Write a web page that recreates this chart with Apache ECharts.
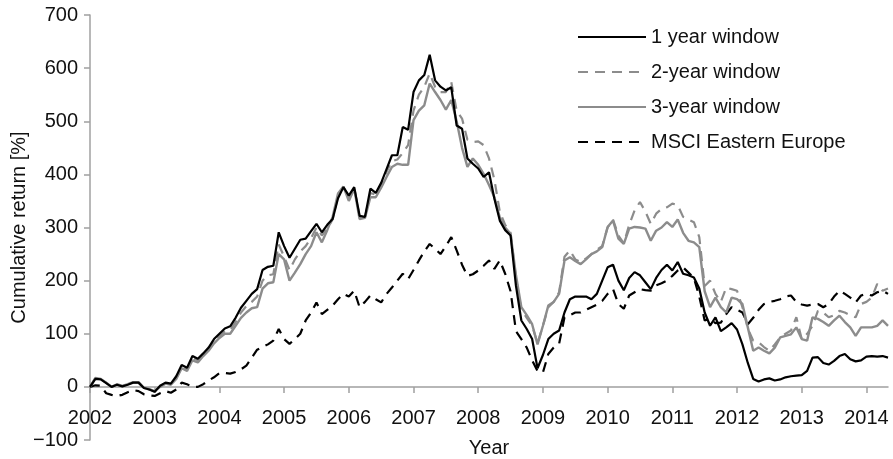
<!DOCTYPE html>
<html>
<head>
<meta charset="utf-8">
<script src="https://cdn.jsdelivr.net/npm/echarts@6/dist/echarts.min.js"></script>
<style>
html, body { margin: 0; padding: 0; background: #fff; }
#chart { width: 893px; height: 459px; }
</style>
</head>
<body>
<div id="chart"></div>
<script>
// monthly categories, Jan 2002 .. May 2014
var years = [2002, 2003, 2004, 2005, 2006, 2007, 2008, 2009, 2010, 2011, 2012, 2013, 2014];
var months = [];
years.forEach(function (y) {
	for (var m = 1; m <= 12; m++) {
		if (y === 2014 && m > 5) break;
		months.push(y + '-' + (m < 10 ? '0' : '') + m);
	}
});

var oneYear = [0, 15, 14, 7, 0, 4, 1, 4, 8, 8, -2, -5,
	-9, 2, 8, 6, 20, 41, 36, 58, 53, 63, 74, 90,
	100, 110, 114, 130, 149, 162, 175, 184, 220, 226, 228, 291,
	265, 243, 260, 277, 279, 293, 307, 291, 305, 316, 355, 376,
	360, 376, 322, 320, 373, 365, 384, 410, 436, 436, 489, 484,
	555, 577, 587, 625, 577, 565, 558, 564, 492, 486, 430, 420,
	411, 395, 404, 354, 313, 295, 285, 190, 125, 109, 90, 35,
	60, 90, 100, 106, 140, 165, 170, 170, 170, 165, 175, 200,
	225, 230, 200, 182, 205, 216, 210, 197, 184, 205, 220, 230,
	219, 235, 213, 210, 206, 185, 140, 115, 131, 105, 112, 120,
	108, 80, 45, 15, 10, 14, 16, 12, 14, 18, 20, 21,
	22, 30, 55, 56, 45, 42, 49, 58, 62, 52, 48, 50,
	57, 58, 57, 58, 55];

var twoYear = [0, 16, 14, 8, 0, 4, 1, 5, 8, 8, -2, -5,
	-9, 1, 7, 5, 17, 38, 33, 54, 50, 60, 71, 86,
	96, 105, 107, 122, 140, 152, 160, 170, 200, 210, 212, 268,
	245, 220, 240, 255, 265, 280, 300, 285, 298, 315, 360, 376,
	355, 376, 320, 320, 365, 362, 380, 405, 425, 428, 440, 455,
	520, 550, 565, 590, 565, 555, 555, 574, 520, 505, 465, 461,
	462, 455, 430, 390, 330, 305, 290, 205, 145, 130, 115, 82,
	115, 150, 160, 178, 245, 257, 240, 235, 242, 250, 258, 265,
	300, 315, 285, 270, 305, 332, 348, 330, 307, 326, 335, 338,
	345, 342, 320, 315, 310, 282, 190, 200, 175, 160, 187, 184,
	181, 150, 110, 87, 84, 75, 68, 80, 93, 100, 106, 131,
	90, 100, 115, 143, 140, 131, 135, 143, 140, 135, 131, 156,
	160, 168, 194, 181, 185];

var threeYear = [0, 17, 15, 8, 0, 5, 2, 5, 9, 9, -2, -4,
	-8, 0, 6, 4, 15, 35, 30, 50, 46, 58, 68, 82,
	92, 100, 100, 115, 130, 140, 148, 150, 185, 195, 197, 250,
	240, 200, 215, 231, 250, 265, 291, 272, 295, 320, 364, 377,
	350, 373, 316, 318, 357, 357, 375, 395, 414, 420, 418, 418,
	502, 520, 530, 571, 555, 540, 522, 540, 500, 450, 414, 430,
	418, 401, 380, 357, 319, 300, 288, 210, 150, 135, 118, 80,
	115, 153, 160, 175, 238, 244, 237, 231, 240, 250, 255, 263,
	301, 313, 279, 269, 298, 301, 300, 298, 275, 294, 300, 310,
	301, 315, 290, 275, 272, 263, 180, 150, 168, 150, 140, 168,
	165, 156, 112, 68, 74, 68, 63, 74, 93, 96, 99, 112,
	90, 87, 131, 128, 122, 115, 125, 134, 122, 112, 96, 112,
	112, 112, 115, 125, 115];

var msci = [0, 3, 2, -12, -15, -17, -15, -10, -6, -8, -14, -16,
	-17, -12, -8, -11, -5, 8, 5, 0, 0, 5, 12, 18,
	26, 26, 25, 28, 33, 40, 55, 70, 75, 80, 87, 109,
	90, 81, 90, 100, 125, 140, 159, 137, 145, 153, 165, 175,
	170, 181, 150, 160, 172, 165, 159, 175, 187, 200, 213, 203,
	220, 238, 255, 269, 260, 250, 265, 282, 257, 230, 209, 212,
	219, 228, 238, 222, 238, 213, 180, 105, 90, 74, 50, 30,
	27, 62, 74, 81, 131, 135, 140, 140, 145, 150, 155, 162,
	175, 184, 156, 147, 172, 178, 184, 182, 181, 191, 195, 200,
	209, 219, 225, 215, 205, 170, 125, 128, 120, 121, 137, 150,
	145, 140, 118, 130, 145, 156, 160, 162, 165, 170, 172, 160,
	155, 153, 155, 156, 150, 156, 170, 181, 175, 168, 159, 172,
	175, 172, 178, 181, 175];

var seriesNames = ['1 year window', '2-year window', '3-year window', 'MSCI Eastern Europe'];

var font = "'Liberation Sans', Arial, sans-serif";
var fontSize = 20;
var grayLine = '#8c8c8c';
var axisGray = '#a0a0a0';

function yearTick(index) {
	return index % 12 === 0;
}

var option = {
	backgroundColor: '#fff',
	animation: false,
	textStyle: {
		fontFamily: font
	},
	grid: {
		left: 90,
		right: 5,
		top: 15,
		bottom: 19,
		outerBoundsMode: 'none'
	},
	legend: {
		orient: 'vertical',
		left: 572,
		top: 22,
		itemWidth: 68,
		itemHeight: 14,
		itemGap: 15,
		itemStyle: { opacity: 0 },
		textStyle: {
			fontFamily: font,
			fontSize: fontSize,
			color: '#111'
		},
		data: seriesNames
	},
	xAxis: [{
		// axis line and ticks sitting on zero
		type: 'category',
		data: months,
		boundaryGap: false,
		axisLine: {
			onZero: true,
			lineStyle: { color: axisGray, width: 1.5 }
		},
		axisTick: {
			interval: yearTick,
			length: 6,
			lineStyle: { color: axisGray, width: 1.5 }
		},
		axisLabel: { show: false },
		splitLine: { show: false }
	}, {
		// year labels and name, moved up to the zero line
		type: 'category',
		data: months,
		boundaryGap: false,
		position: 'bottom',
		offset: -53,
		name: 'Year',
		nameLocation: 'middle',
		nameGap: 51,
		nameMoveOverlap: false,
		nameTextStyle: {
			fontFamily: font,
			fontSize: fontSize,
			color: '#111'
		},
		axisLine: { show: false, onZero: false },
		axisTick: { show: false },
		axisLabel: {
			interval: yearTick,
			margin: 21,
			fontFamily: font,
			fontSize: fontSize,
			color: '#111',
			formatter: function (v) {
				return v.slice(0, 4);
			}
		},
		splitLine: { show: false }
	}],
	yAxis: {
		type: 'value',
		min: -100,
		max: 700,
		interval: 100,
		name: 'Cumulative return [%]',
		nameLocation: 'middle',
		nameGap: 61,
		nameMoveOverlap: false,
		nameTextStyle: {
			fontFamily: font,
			fontSize: fontSize,
			color: '#111'
		},
		axisLine: {
			show: true,
			lineStyle: { color: axisGray, width: 1.5 }
		},
		axisTick: {
			show: true,
			length: 6,
			lineStyle: { color: axisGray, width: 1.5 }
		},
		axisLabel: {
			margin: 12,
			fontFamily: font,
			fontSize: fontSize,
			color: '#111',
			formatter: function (v) {
				return v < 0 ? '\u2212' + Math.abs(v) : v;
			}
		},
		splitLine: { show: false }
	},
	series: [{
		name: seriesNames[0],
		type: 'line',
		symbol: 'none',
		z: 5,
		data: oneYear,
		itemStyle: { color: '#000' },
		lineStyle: { color: '#000', width: 2.2 }
	}, {
		name: seriesNames[1],
		type: 'line',
		symbol: 'none',
		z: 3,
		data: twoYear,
		itemStyle: { color: grayLine },
		lineStyle: { color: grayLine, width: 2.2, type: [10, 7] }
	}, {
		name: seriesNames[2],
		type: 'line',
		symbol: 'none',
		z: 4,
		data: threeYear,
		itemStyle: { color: grayLine },
		lineStyle: { color: grayLine, width: 2.4 }
	}, {
		name: seriesNames[3],
		type: 'line',
		symbol: 'none',
		z: 2,
		data: msci,
		itemStyle: { color: '#000' },
		lineStyle: { color: '#000', width: 2.2, type: [10, 7] }
	}]
};

var myChart = echarts.init(document.getElementById('chart'));
myChart.setOption(option);
</script>
</body>
</html>
